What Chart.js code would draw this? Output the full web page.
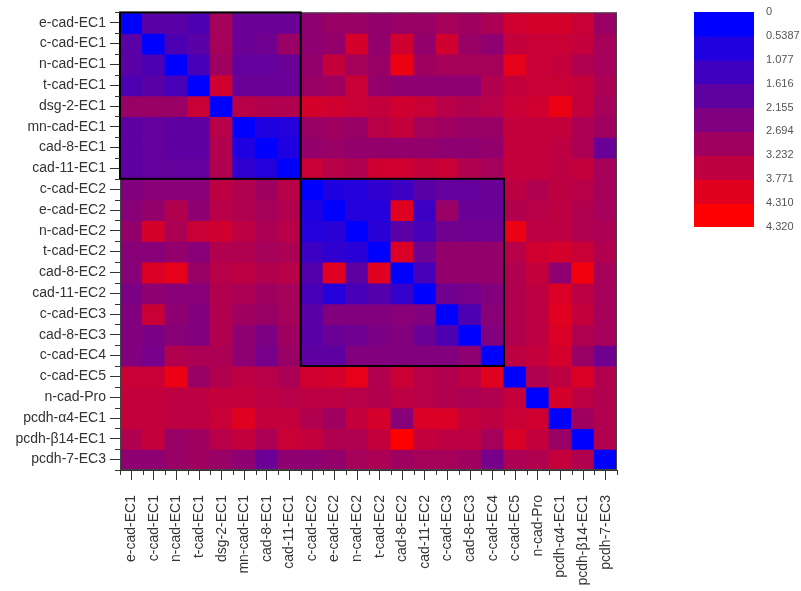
<!DOCTYPE html>
<html>
<head>
<meta charset="utf-8">
<script src="https://cdn.jsdelivr.net/npm/chart.js@4.4.1/dist/chart.umd.min.js"></script>
<style>
  body { margin: 0; background: #fff; }
  #wrap { position: relative; width: 801px; height: 591px; }
  #heat { position: absolute; left: 0; top: 0; }
  #bar { position: absolute; left: 680px; top: 0; }
</style>
</head>
<body>
<div id="wrap">
  <canvas id="heat" width="801" height="591"></canvas>
  <canvas id="bar" width="121" height="240"></canvas>
</div>
<script>
/* === data === */
const domains = ['e-cad-EC1', 'c-cad-EC1', 'n-cad-EC1', 't-cad-EC1', 'dsg-2-EC1', 'mn-cad-EC1', 'cad-8-EC1', 'cad-11-EC1',
  'c-cad-EC2', 'e-cad-EC2', 'n-cad-EC2', 't-cad-EC2', 'cad-8-EC2', 'cad-11-EC2', 'c-cad-EC3', 'cad-8-EC3', 'c-cad-EC4',
  'c-cad-EC5', 'n-cad-Pro', 'pcdh-\u03b14-EC1', 'pcdh-\u03b214-EC1', 'pcdh-7-EC3'];

// distance matrix, one row per domain (top to bottom)
const dist = [
  [0, 1.5, 1.5, 1.3, 2.8, 1.8, 1.8, 1.8, 2.4, 2.6, 2.6, 2.5, 2.6, 2.6, 2.8, 2.7, 2.9, 3.5, 3.6, 3.6, 3.4, 2.6],
  [1.5, 0, 1.3, 1.5, 2.8, 1.8, 1.9, 2.6, 2.4, 2.5, 3.6, 2.5, 3.5, 2.5, 3.5, 2.6, 2.4, 3.3, 3.4, 3.4, 3.3, 2.8],
  [1.5, 1.3, 0, 1.2, 2.7, 1.7, 1.7, 1.8, 2.5, 3.3, 2.8, 2.6, 4.0, 2.7, 2.8, 2.8, 2.8, 3.9, 3.4, 3.3, 3.0, 2.8],
  [1.3, 1.5, 1.2, 0, 3.5, 1.8, 1.8, 1.8, 2.6, 2.7, 3.4, 2.5, 2.4, 2.4, 2.4, 2.4, 3.0, 3.3, 3.4, 3.4, 3.3, 2.9],
  [2.6, 2.6, 2.6, 3.4, 0, 3.1, 3.0, 3.0, 3.6, 3.5, 3.4, 3.3, 3.5, 3.4, 3.1, 3.0, 3.1, 3.4, 3.5, 4.0, 3.3, 2.8],
  [1.6, 1.7, 1.6, 1.6, 3.1, 0, 0.5, 0.6, 2.6, 2.7, 2.6, 3.1, 3.3, 2.8, 2.7, 2.6, 2.6, 3.3, 3.3, 3.3, 2.9, 2.7],
  [1.6, 1.7, 1.6, 1.6, 3.0, 0.5, 0, 0.5, 2.5, 2.6, 2.5, 2.5, 2.5, 2.5, 2.4, 2.4, 2.5, 3.3, 3.3, 3.2, 2.9, 1.8],
  [1.6, 1.7, 1.7, 1.7, 3.0, 0.8, 0.6, 0, 3.4, 3.1, 3.0, 3.5, 3.5, 3.3, 3.4, 3.0, 2.8, 3.3, 3.3, 3.2, 3.3, 2.8],
  [2.2, 2.3, 2.3, 2.3, 3.2, 3.0, 2.7, 3.1, 0, 0.5, 0.6, 0.8, 1.0, 1.5, 1.7, 1.7, 1.8, 3.2, 3.0, 3.2, 3.1, 2.8],
  [2.3, 2.5, 3.0, 2.4, 3.1, 3.0, 2.8, 3.0, 0.5, 0, 0.6, 0.6, 3.8, 1.0, 2.6, 1.8, 1.8, 3.0, 3.1, 3.2, 3.0, 2.8],
  [2.5, 3.6, 2.9, 3.4, 3.5, 3.2, 2.9, 3.1, 0.6, 0.7, 0, 0.7, 1.5, 1.2, 1.9, 1.9, 1.9, 4.0, 3.2, 3.2, 3.0, 2.9],
  [2.3, 2.3, 2.5, 2.3, 3.0, 3.0, 2.8, 2.9, 1.0, 0.8, 0.7, 0, 3.7, 1.9, 2.5, 2.5, 2.5, 3.1, 3.5, 3.6, 3.4, 3.0],
  [2.3, 3.7, 3.9, 2.6, 3.1, 3.2, 3.0, 3.1, 1.4, 3.8, 1.6, 3.8, 0, 1.2, 2.5, 2.5, 2.5, 3.0, 3.3, 2.4, 4.1, 2.8],
  [2.1, 2.4, 2.3, 2.3, 3.0, 2.9, 2.7, 2.8, 1.2, 0.6, 1.2, 1.4, 0.9, 0, 1.9, 2.0, 2.2, 3.0, 3.2, 3.7, 3.2, 2.8],
  [2.2, 3.4, 2.4, 2.2, 3.0, 2.7, 2.6, 2.8, 1.5, 2.2, 2.2, 2.2, 2.3, 2.2, 0, 1.3, 2.3, 3.0, 3.2, 3.8, 3.3, 2.8],
  [2.2, 2.1, 2.3, 2.2, 3.0, 2.4, 2.1, 2.7, 1.5, 1.8, 1.9, 2.1, 2.2, 1.8, 1.3, 0, 2.2, 3.0, 3.2, 3.7, 3.0, 2.8],
  [2.2, 2.0, 3.0, 2.9, 2.9, 2.4, 2.0, 2.6, 1.6, 1.6, 2.2, 2.2, 2.2, 2.2, 2.2, 2.4, 0, 3.2, 3.3, 3.6, 2.6, 1.9],
  [3.4, 3.4, 4.0, 2.6, 3.0, 3.2, 3.1, 2.9, 3.5, 3.6, 3.9, 3.0, 3.4, 3.1, 3.0, 3.2, 3.8, 0, 3.0, 3.2, 3.7, 3.0],
  [3.3, 3.3, 3.2, 3.2, 3.3, 3.3, 3.2, 3.1, 3.2, 3.2, 3.1, 3.0, 3.2, 3.1, 3.0, 2.9, 3.0, 3.3, 0, 3.6, 3.2, 3.0],
  [3.3, 3.3, 3.2, 3.2, 3.4, 3.8, 3.3, 3.3, 3.0, 2.7, 3.3, 3.6, 2.3, 3.7, 3.7, 3.3, 3.2, 3.4, 3.5, 0, 2.7, 3.0],
  [3.0, 3.3, 2.6, 2.7, 3.1, 3.3, 2.9, 3.4, 3.3, 3.0, 3.0, 3.3, 4.3, 3.3, 3.2, 3.2, 2.8, 3.7, 3.3, 2.6, 0, 3.0],
  [2.4, 2.4, 2.6, 2.7, 2.6, 2.4, 1.8, 2.4, 2.4, 2.5, 2.8, 2.9, 2.7, 2.8, 2.8, 2.7, 2.0, 2.9, 3.0, 3.3, 3.0, 0]
];

// colour scale ticks
const scaleTicks = ['0', '0.5387', '1.077', '1.616', '2.155', '2.694', '3.232', '3.771', '4.310', '4.320'];
const vmax = 4.32;

// clusters outlined in black (first and last index)
const clusters = [[0, 7], [8, 16]];

/* === helpers === */
function heat(v) {
  const t = Math.min(1, Math.max(0, v / vmax));
  return `rgb(${Math.round(255 * t)},0,${Math.round(255 * (1 - t))})`;
}

const FONT = '"Liberation Sans", Arial, sans-serif';

const framePlugin = {
  id: 'frame',
  afterDatasetsDraw(chart) {
    const { ctx, chartArea: a, scales: { x, y } } = chart;
    const half = (x.getPixelForValue(1) - x.getPixelForValue(0)) / 2;
    ctx.save();
    ctx.strokeStyle = '#444';
    ctx.lineWidth = 1;
    ctx.strokeRect(a.left + 0.5, a.top + 0.5, a.right - a.left - 1, a.bottom - a.top - 1);

    // cluster boxes
    ctx.strokeStyle = '#000';
    ctx.lineWidth = 2;
    clusters.forEach(([s, e]) => {
      const x1 = x.getPixelForValue(s) - half, x2 = x.getPixelForValue(e) + half;
      const y1 = y.getPixelForValue(s), y2 = y.getPixelForValue(e + 1);
      ctx.strokeRect(x1, y1, x2 - x1, y2 - y1);
    });

    // minor ticks on cell edges
    ctx.strokeStyle = '#333';
    ctx.lineWidth = 1;
    ctx.beginPath();
    for (let i = 0; i <= domains.length; i++) {
      const px = Math.round(x.getPixelForValue(0) - half + i * 2 * half) + 0.5;
      ctx.moveTo(px, a.bottom);
      ctx.lineTo(px, a.bottom + 5);
      const py = Math.round(y.getPixelForValue(i)) + 0.5;
      ctx.moveTo(a.left - 5, py);
      ctx.lineTo(a.left, py);
    }
    ctx.stroke();
    ctx.restore();
  }
};

/* === heat map === */
new Chart(document.getElementById('heat'), {
  type: 'bar',
  data: {
    labels: domains,
    datasets: dist.map((row, r) => ({
      data: row.map(() => [r, r + 1]),
      backgroundColor: row.map(v => heat(v)),
      borderWidth: 0,
      inflateAmount: 0.6,
      grouped: false,
      barPercentage: 1,
      categoryPercentage: 1
    }))
  },
  options: {
    responsive: false,
    devicePixelRatio: 1,
    animation: false,
    layout: { padding: { top: 12, right: 184, left: 0, bottom: 0 } },
    plugins: { legend: { display: false }, tooltip: { enabled: false } },
    scales: {
      x: {
        offset: true,
        grid: { offset: false, drawOnChartArea: false, tickLength: 10, tickColor: '#333' },
        border: { display: true, color: '#333' },
        ticks: {
          autoSkip: false, minRotation: 90, maxRotation: 90, padding: 15,
          color: '#333', font: { family: FONT, size: 14 }
        },
        afterFit(axis) { axis.height = 121; }
      },
      y: {
        min: 0,
        max: domains.length,
        reverse: true,
        afterBuildTicks(axis) { axis.ticks = domains.map((d, i) => ({ value: i + 0.5 })); },
        grid: { drawOnChartArea: false, tickLength: 10, tickColor: '#333' },
        border: { display: true, color: '#333' },
        ticks: {
          padding: 4, color: '#333', font: { family: FONT, size: 14 },
          callback: (v, i) => domains[i]
        },
        afterFit(axis) { axis.width = 120; }
      }
    }
  },
  plugins: [framePlugin]
});

/* === colour bar === */
const bands = scaleTicks.slice(0, -1);
new Chart(document.getElementById('bar'), {
  type: 'bar',
  data: {
    labels: [''],
    datasets: bands.map((t, i) => ({
      data: [[i, i + 1]],
      backgroundColor: heat(parseFloat(t)),
      borderWidth: 0,
      inflateAmount: 0.6,
      grouped: false,
      barPercentage: 1,
      categoryPercentage: 1
    }))
  },
  options: {
    responsive: false,
    devicePixelRatio: 1,
    animation: false,
    layout: { padding: { top: 12, left: 14, bottom: 13, right: 0 } },
    plugins: { legend: { display: false }, tooltip: { enabled: false } },
    scales: {
      x: { display: false },
      y: {
        position: 'right',
        min: 0,
        max: bands.length,
        reverse: true,
        afterBuildTicks(axis) { axis.ticks = scaleTicks.map((t, i) => ({ value: i })); },
        grid: { display: false },
        border: { display: false },
        ticks: {
          padding: 4, color: '#555', font: { family: FONT, size: 11 },
          callback: (v, i) => scaleTicks[i]
        },
        afterFit(axis) { axis.width = 47; }
      }
    }
  }
});
</script>
</body>
</html>
